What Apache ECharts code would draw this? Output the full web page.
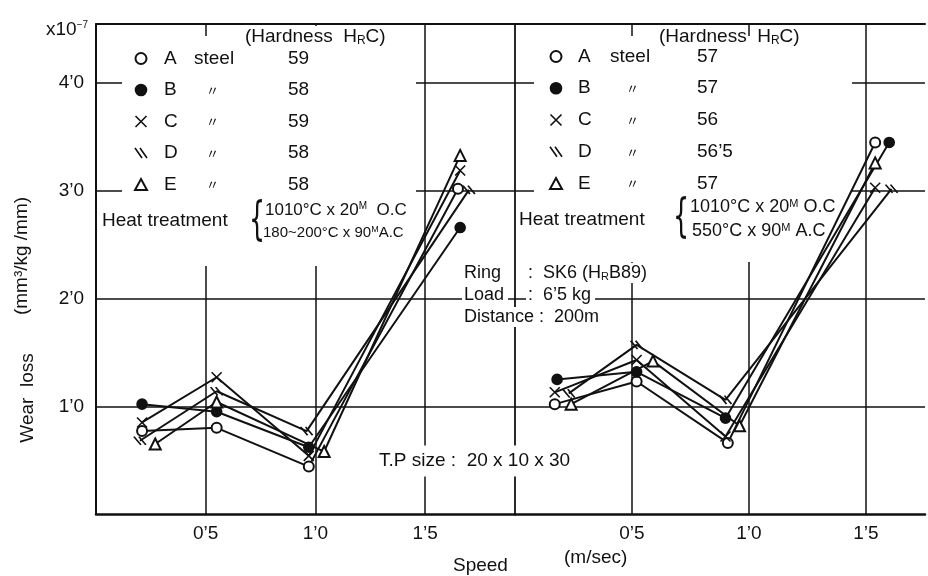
<!DOCTYPE html>
<html><head><meta charset="utf-8">
<script src="https://cdn.jsdelivr.net/npm/echarts@6/dist/echarts.min.js"></script>
<style>html,body{margin:0;padding:0;background:#fff}#c{width:928px;height:576px}</style>
</head><body><div id="c"></div>
<script>
// ---- data ----
const steelNames = ['A','B','C','D','E'];
const leftHardness = ['59','58','59','58','58'];
const rightHardness = ['57','57','56','56\u20195','57'];

const leftA = [[0.21,0.77],[0.55,0.80],[0.97,0.44],[1.65,3.02]];
const leftB = [[0.21,1.02],[0.55,0.95],[0.97,0.62],[1.66,2.66]];
const leftC = [[0.21,0.85],[0.55,1.27],[0.97,0.54],[1.66,3.19]];
const leftD = [[0.20,0.68],[0.55,1.14],[0.96,0.77],[1.70,3.01]];
const leftE = [[0.27,0.65],[0.55,1.04],[1.04,0.58],[1.66,3.33]];

const rightA = [[0.17,1.02],[0.52,1.23],[0.91,0.66],[1.54,3.45]];
const rightB = [[0.18,1.25],[0.52,1.32],[0.90,0.89],[1.60,3.45]];
const rightC = [[0.17,1.13],[0.52,1.43],[0.90,0.72],[1.54,3.03]];
const rightD = [[0.23,1.12],[0.52,1.57],[0.90,1.06],[1.61,3.02]];
const rightE = [[0.24,1.02],[0.59,1.42],[0.96,0.82],[1.54,3.26]];

const leftData = [leftA,leftB,leftC,leftD,leftE];
const rightData = [rightA,rightB,rightC,rightD,rightE];

// ---- styles ----
const FONT = '"Liberation Sans", Arial, sans-serif';
const INK = '#111';
const SYM = ['emptyCircle','circle','path://M0,0L10,10M10,0L0,10','path://M0,0L7,10M5,0L12,10','emptyTriangle'];
const SIZE = [10, 10, 10, [12,10], 11];

function mkSeries(prefix, data, gi){
  return data.map((d,i)=>({
    name: prefix + steelNames[i], type:'line', xAxisIndex:gi, yAxisIndex:gi,
    data:d, symbol:SYM[i], symbolSize:SIZE[i], symbolKeepAspect:true, showAllSymbol:true,
    lineStyle:{color:INK, width:2}, itemStyle:{color:INK, borderColor:INK, borderWidth:1.6},
    emphasis:{disabled:true}, silent:true, z:3
  }));
}

function tickFmt(v){
  if (v === 0 || Math.abs(v*2 - Math.round(v*2)) > 1e-6) return '';
  return v.toFixed(1).replace('.', '\u2019');
}
function yFmt(v){
  if (v === 0 || Math.abs(v - Math.round(v)) > 1e-6) return '';
  return v.toFixed(1).replace('.', '\u2019');
}

const splitL = {show:true, showMinLine:false, showMaxLine:false, lineStyle:{color:INK, width:1.5}};
const lbl = {color:INK, fontSize:19, fontFamily:FONT};

function xAx(gi, max, pos){
  const bottom = pos === 'bottom';
  return {type:'value', gridIndex:gi, min:0, max:max, interval:0.5, position:pos,
    axisLine:{show:true, onZero:false, lineStyle:{color:INK, width: bottom?2.5:2}},
    axisTick:{show:false},
    splitLine: bottom ? splitL : {show:false},
    axisLabel: bottom ? Object.assign({formatter:tickFmt, margin:10}, lbl) : {show:false}};
}

function legendFor(prefix, hard, left, top, gap, w){
  const rich = {
    g:{width:w.g, fontSize:19, lineHeight:20, fontFamily:FONT, color:INK},
    l:{width:w.l, fontSize:19, lineHeight:20, fontFamily:FONT, color:INK},
    s:{width:w.s, fontSize:19, lineHeight:20, fontFamily:FONT, color:INK},
    d1:{width:w.d1, fontSize:19, lineHeight:20, fontFamily:FONT, color:INK},
    d:{width:w.s - w.d1, fontSize:13, lineHeight:20, fontFamily:'"Noto Sans CJK JP", sans-serif', color:INK},
    h:{fontSize:19, lineHeight:20, fontFamily:FONT, color:INK}
  };
  return {
    data: steelNames.map((s,i)=>({name:prefix+s, icon:SYM[i]})),
    left:left, top:top, orient:'vertical', itemWidth:12, itemHeight:11, itemGap:gap,
    padding:0, selectedMode:false, symbolKeepAspect:true,
    itemStyle:{borderColor:INK, borderWidth:1.6},
    formatter:function(n){
      const i = steelNames.indexOf(n.slice(prefix.length));
      if (i === 0) return '{g| }{l|' + steelNames[i] + '}{s|steel}{h|' + hard[i] + '}';
      return '{g| }{l|' + steelNames[i] + '}{d1| }{d|\u3003}{h|' + hard[i] + '}';
    },
    textStyle:{rich:rich, color:INK}
  };
}

function txt(x, y, text, size, extra){
  const st = Object.assign({text:text, x:0, y:0, fill:INK, font: size + 'px ' + FONT,
    align:'left', textAlign:'left', verticalAlign:'middle', textVerticalAlign:'middle'}, extra && extra.style || {});
  return Object.assign({type:'text', x:x, y:y, z:10, silent:true, style:st}, extra && extra.el || {});
}
function richSet(n, s){
  return {
    n:{fontSize:n, fontFamily:FONT, fill:INK, color:INK},
    sup:{fontSize:s, fontFamily:FONT, verticalAlign:'top', fill:INK, color:INK},
    sm:{fontSize:12, fontFamily:FONT, verticalAlign:'bottom', fill:INK, color:INK},
    b:{fontSize:19, fontFamily:FONT, fill:INK, color:INK}
  };
}
const rich17 = richSet(17, 10), rich15 = richSet(15, 9), rich18 = richSet(18, 11);

const whiteBoxes = [
  {type:'rect', z:1, silent:true, shape:{x:122, y:36, width:294, height:230}, style:{fill:'#fff'}},
  {type:'rect', z:1, silent:true, shape:{x:534, y:36, width:318, height:226}, style:{fill:'#fff'}},
  {type:'rect', z:1, silent:true, shape:{x:308, y:26, width:16, height:12}, style:{fill:'#fff'}}
];

const braceStyle = {font:'46px "DejaVu Sans", sans-serif'};
const texts = [
  txt(46, 30, '{b|x10}{sup|\u22127}', 19, {style:{rich:rich17}}),
  txt(245, 37, '{b|(Hardness  H}{sm|R}{b|C)}', 19, {style:{rich:rich17}}),
  txt(659, 37, '{b|(Hardness  H}{sm|R}{b|C)}', 19, {style:{rich:rich17}}),
  txt(102, 221, 'Heat treatment', 19),
  txt(519, 220, 'Heat treatment', 19),
  txt(249, 222, '{', 46, {el:{scaleX:0.55}, style:braceStyle}),
  txt(673, 219, '{', 46, {el:{scaleX:0.55}, style:braceStyle}),
  txt(265, 210, '{n|1010\u00b0C x 20}{sup|M} {n| O.C}', 17, {style:{rich:rich17}}),
  txt(263, 233, '{n|180~200\u00b0C x 90}{sup|M}{n|A.C}', 15, {style:{rich:rich15}}),
  txt(690, 207, '{n|1010\u00b0C x 20}{sup|M}{n| O.C}', 18, {style:{rich:rich18}}),
  txt(692, 231, '{n|550\u00b0C x 90}{sup|M}{n| A.C}', 18, {style:{rich:rich18}}),
  txt(462, 273, 'Ring', 18, {style:{backgroundColor:'#fff', padding:[1,4,1,2]}}),
  txt(526, 273, '{r|:  SK6 (H}{rs|R}{r|B89)}', 18, {style:{backgroundColor:'#fff', padding:[1,4,1,2], rich:{
      r:{fontSize:18, fontFamily:FONT, fill:INK}, rs:{fontSize:11, fontFamily:FONT, fill:INK, verticalAlign:'bottom'}}}}),
  txt(462, 295, 'Load', 18, {style:{backgroundColor:'#fff', padding:[1,4,1,2]}}),
  txt(526, 295, ':  6\u20195 kg', 18, {style:{backgroundColor:'#fff', padding:[1,4,1,2]}}),
  txt(462, 317, 'Distance :  200m', 18, {style:{backgroundColor:'#fff', padding:[1,4,1,2]}}),
  txt(375, 461, 'T.P size :  20 x 10 x 30', 19, {style:{backgroundColor:'#fff', padding:[6,6,6,4]}}),
  txt(453, 566, 'Speed', 19),
  txt(564, 558, '(m/sec)', 19),
  txt(28, 398, 'Wear  loss', 19, {el:{rotation:Math.PI/2}, style:{align:'center', textAlign:'center'}}),
  txt(22, 256, '(mm\u00b3/kg /mm)', 19, {el:{rotation:Math.PI/2}, style:{align:'center', textAlign:'center'}})
];

const option = {
  animation:false,
  backgroundColor:'#fff',
  grid:[
    {left:96, top:24, width:419, height:490},
    {left:515, top:24, width:413, height:490}
  ],
  xAxis:[ xAx(0, 1.91, 'bottom'), xAx(1, 1.753, 'bottom'), xAx(0, 1.91, 'top'), xAx(1, 1.753, 'top') ],
  yAxis:[
    {type:'value', gridIndex:0, min:0, max:4.55, interval:1,
      axisLine:{show:true, lineStyle:{color:INK, width:2}}, axisTick:{show:false},
      splitLine:splitL, axisLabel:Object.assign({formatter:yFmt, margin:12}, lbl)},
    {type:'value', gridIndex:1, min:0, max:4.55, interval:1,
      axisLine:{show:true, lineStyle:{color:INK, width:1.8}}, axisTick:{show:false},
      splitLine:splitL, axisLabel:{show:false}}
  ],
  legend:[
    legendFor('L-', leftHardness, 134, 49, 12.5, {g:12, l:30, s:94, d1:12}),
    legendFor('R-', rightHardness, 549, 47, 12.75, {g:11, l:32, s:87, d1:16})
  ],
  graphic:{elements: whiteBoxes.concat(texts)},
  series: mkSeries('L-', leftData, 0).concat(mkSeries('R-', rightData, 1))
};
const chart = echarts.init(document.getElementById('c'), null, {renderer:'canvas'});
chart.setOption(option);
</script></body></html>
